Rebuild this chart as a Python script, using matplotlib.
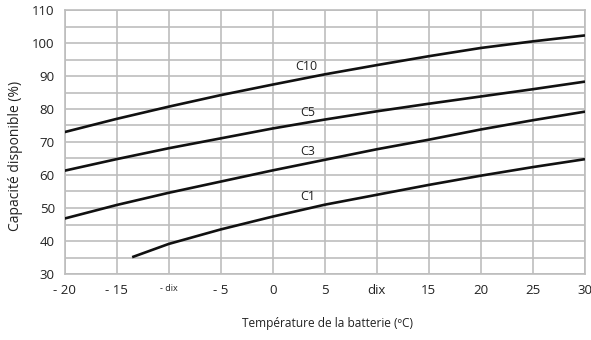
import matplotlib
matplotlib.use("Agg")
import matplotlib.pyplot as plt

plt.rcParams['font.family'] = ['Open Sans', 'DejaVu Sans']

temps = [-20, -15, -10, -5, 0, 5, 10, 15, 20, 25, 30]
c10 = [73.0, 77.0, 80.7, 84.2, 87.4, 90.5, 93.3, 96.0, 98.5, 100.5, 102.3]
c5 = [61.3, 64.8, 68.1, 71.1, 74.1, 76.8, 79.3, 81.6, 83.8, 86.0, 88.3]
c3 = [46.8, 50.9, 54.6, 58.0, 61.4, 64.6, 67.8, 70.7, 73.8, 76.6, 79.2]
c1_t = [-13.5, -10, -5, 0, 5, 10, 15, 20, 25, 30]
c1 = [35.1, 39.1, 43.5, 47.4, 51.0, 54.0, 57.0, 59.8, 62.4, 64.8]

xtick_vals = [-20, -15, -10, -5, 0, 5, 10, 15, 20, 25, 30]
xtick_labels = ['- 20', '- 15', '- dix', '- 5', '0', '5', 'dix', '15', '20', '25', '30']
ytick_vals = [30, 40, 50, 60, 70, 80, 90, 100, 110]

labels = [('C10', 3.2, 92.9), ('C5', 3.4, 78.9), ('C3', 3.4, 67.2), ('C1', 3.4, 53.4)]

fig = plt.figure(figsize=(5.91, 3.40), dpi=100)
ax = fig.add_axes([64.5/591, 1 - 274/340, 520.5/591, 264/340])

grid_color = '#bdbdbd'
for v in range(30, 111, 5):
    ax.axhline(v, color=grid_color, lw=1.2, zorder=1)
for v in range(-20, 31, 5):
    ax.axvline(v, color=grid_color, lw=1.2, zorder=1)

for xs, ys in [(temps, c10), (temps, c5), (temps, c3), (c1_t, c1)]:
    ax.plot(xs, ys, color='#111111', lw=1.9, zorder=3, solid_capstyle='butt')

for txt, x, y in labels:
    ax.text(x, y, txt, fontsize=9, ha='center', va='center', color='#222222', zorder=4)

ax.set_xlim(-20, 30)
ax.set_ylim(30, 110)
ax.set_xticks(xtick_vals)
ax.set_xticklabels(xtick_labels)
ax.set_yticks(ytick_vals)
for lbl in ax.get_xticklabels():
    if lbl.get_text() == '- dix':
        lbl.set_fontsize(6.5)
    else:
        lbl.set_fontsize(9.5)
ax.tick_params(axis='y', labelsize=9.5, pad=7)
ax.tick_params(axis='x', pad=7)
ax.tick_params(length=0, colors='#222222')
for s in ax.spines.values():
    s.set_color(grid_color)
    s.set_linewidth(1.2)

fig.text(16/591, 1 - 156/340, 'Capacité disponible (%)', fontsize=10, rotation=90,
         ha='center', va='center', color='#222222')
fig.text(327/591, 1 - 324/340, 'Température de la batterie (ºC)', fontsize=8.6,
         ha='center', va='center', color='#222222')

fig.savefig('out.png', dpi=100, facecolor='white')
